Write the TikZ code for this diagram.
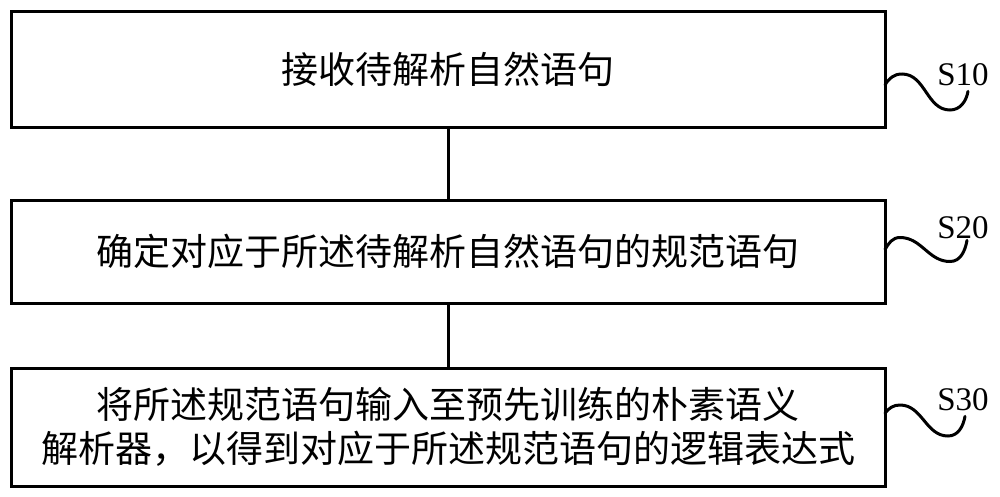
\documentclass[tikz,border=0pt]{standalone}
\usepackage{fontspec}
\setmainfont{Liberation Serif}
\newfontfamily\cjk{Noto Sans CJK SC}
\usetikzlibrary{positioning,calc}

\begin{document}
\begin{tikzpicture}[
  x=1pt, y=-1pt,
  stepbox/.style={draw=black, line width=3pt, minimum width=874pt, inner sep=0pt, align=center,
    font=\cjk\fontsize{37}{44}\selectfont},
  tag/.style={inner sep=0pt, font=\fontsize{33}{33}\selectfont},
  link/.style={line width=3pt},
  wave/.style={line width=3pt, line cap=round},
]
  \useasboundingbox (0,0) rectangle (1000,496);

  % steps
  \node[stepbox, minimum height=116pt] (s10box) at (448,69) {接收待解析自然语句};
  \node[stepbox, minimum height=103pt, below=70pt of s10box] (s20box) {确定对应于所述待解析自然语句的规范语句};
  \node[stepbox, minimum height=118pt, below=62pt of s20box] (s30box) {将所述规范语句输入至预先训练的朴素语义\\解析器，以得到对应于所述规范语句的逻辑表达式};

  \draw[link] (s10box) -- (s20box);
  \draw[link] (s20box) -- (s30box);

  % step tags
  \node[tag] (s10) at (963,75) {S10};
  \node[tag] (s20) at (963,228) {S20};
  \node[tag] (s30) at (963,400) {S30};

  \coordinate (w10) at ($(s10box.east)+(-1.5,16)$);
  \coordinate (w20) at ($(s20box.east)+(-1.5,-2)$);
  \coordinate (w30) at ($(s30box.east)+(-1.5,-14)$);

  \draw[wave] (w10) to[out=60,in=180] ++(17,-11) to[out=0,in=180] ++(48,36) to[out=0,in=-100] ($(s10.south)+(5,5)$);
  \draw[wave] (w20) to[out=60,in=180] ++(15,-12) to[out=0,in=180] ++(50,24) to[out=0,in=-100] ($(s20.south)+(4,1)$);
  \draw[wave] (w30) to[out=50,in=180] ++(15,-8) to[out=0,in=180] ++(48,31) to[out=0,in=-100] ($(s30.south)+(2,5)$);
\end{tikzpicture}
\end{document}
